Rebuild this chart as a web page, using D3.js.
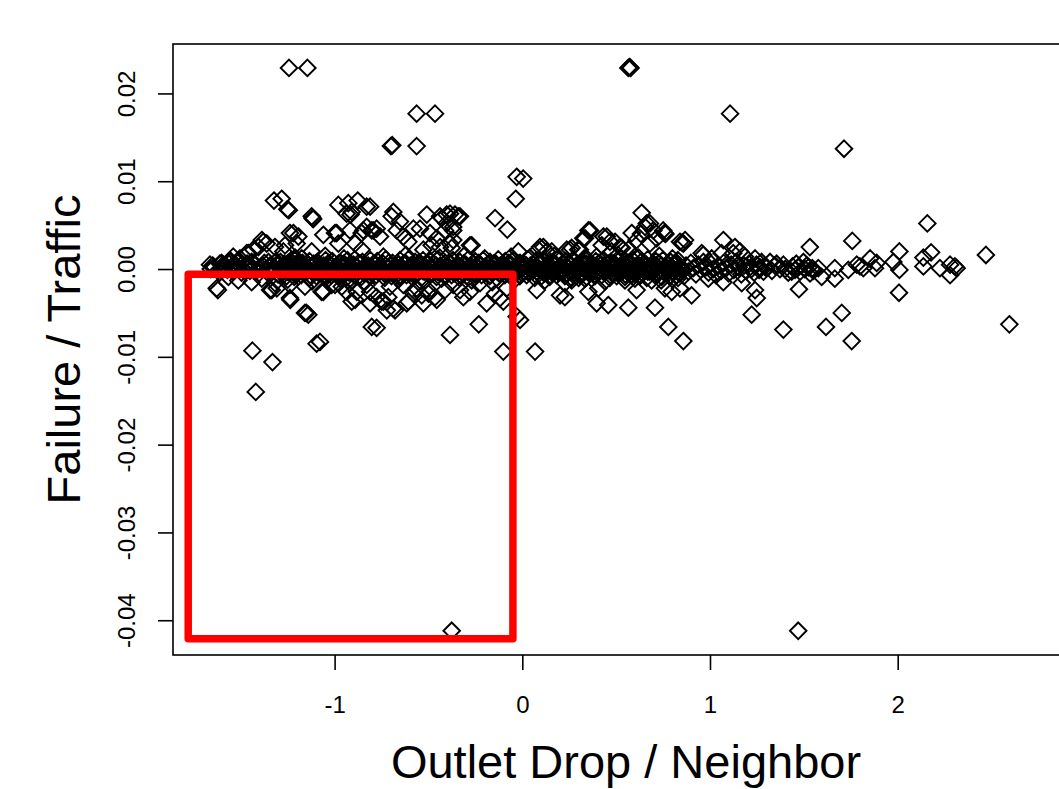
<!DOCTYPE html>
<html>
<head>
<meta charset="utf-8">
<script src="https://cdn.jsdelivr.net/npm/d3@7"></script>
<style>
  html, body { margin: 0; padding: 0; background: #fff; overflow: hidden; }
  text { font-family: "Liberation Sans", Arial, Helvetica, sans-serif; fill: #000; }
</style>
</head>
<body>
<svg id="chart" width="1059" height="789"></svg>
<script>
// ---- axis setup ----
const xTicks = [-1, 0, 1, 2];
const xTickLabels = ["-1", "0", "1", "2"];
const yTicks = [-0.04, -0.03, -0.02, -0.01, 0.00, 0.01, 0.02];
const yTickLabels = ["-0.04", "-0.03", "-0.02", "-0.01", "0.00", "0.01", "0.02"];
const xLimits = [-1.861, 2.966];
const yLimits = [-0.04396, 0.02563];
const xTitle = "Outlet Drop / Neighbor";
const yTitle = "Failure / Traffic";

// highlighted region (outlet drop below 0, failure rate below 0)
const highlightX = [-1.78, -0.05];
const highlightY = [-0.0421, -0.0006];

// ---- observations: [outlet drop / neighbor, failure / traffic] ----
const extremeHigh = [
  [-1.243,0.0229],[-1.145,0.0229],[-0.563,0.0177],[-0.465,0.0177],
  [-0.700,0.0140],[-0.693,0.0141],[-0.563,0.0140],
  [0.565,0.0229],[0.571,0.0230],[0.577,0.0229],[1.107,0.0177],[1.714,0.0137],
  [-0.030,0.0105],[0.005,0.0103],[-0.035,0.0080]
];

const extremeLow = [
  [-0.376,-0.0412],[1.470,-0.0412],
  [-1.438,-0.0093],[-1.331,-0.0106],[-1.420,-0.0140],
  [-1.096,-0.0085],[-1.078,-0.0083],[-0.101,-0.0094],[0.068,-0.0094]
];

const aboveBand = [
  [-1.323,0.0078],[-1.282,0.0080],[-1.252,0.0068],[-1.244,0.0067],
  [-1.122,0.0060],[-1.114,0.0057],[-1.118,0.0058],
  [-0.980,0.0073],[-0.927,0.0075],[-0.877,0.0078],[-0.829,0.0071],[-0.936,0.0063],[-0.909,0.0065],[-0.915,0.0062],
  [-1.060,0.0039],[-0.998,0.0041],[-0.980,0.0029],[-0.989,0.0041],
  [-1.220,0.0041],[-1.193,0.0037],[-1.238,0.0041],[-1.202,0.0029],
  [-1.388,0.0033],[-1.362,0.0029],[-1.406,0.0025],[-1.380,0.0031],
  [-1.318,0.0025],[-1.264,0.0027],[-1.273,0.0020],
  [-1.433,0.0022],[-1.468,0.0018],[-1.540,0.0014],[-1.557,0.0010],[-1.611,0.0006],
  [-1.460,0.0018],[-1.504,0.0012],[-1.557,0.0008],[-1.602,0.0007],[-1.664,0.0005],
  [-0.856,0.0041],[-0.829,0.0048],[-0.802,0.0044],[-0.918,0.0044],[-0.847,0.0044],[-0.758,0.0037],
  [-0.891,0.0029],[-0.856,0.0022],[-1.122,0.0020],[-1.175,0.0012],
  [-0.811,0.0071],[-0.794,0.0044],[-0.776,0.0046],
  [-0.687,0.0065],[-0.696,0.0060],[-0.652,0.0054],[-0.669,0.0044],[-0.634,0.0037],[-0.607,0.0031],
  [-0.509,0.0062],[-0.438,0.0060],[-0.429,0.0058],[-0.403,0.0052],[-0.385,0.0063],[-0.341,0.0060],
  [-0.403,0.0062],[-0.359,0.0062],[-0.332,0.0060],
  [-0.368,0.0048],[-0.412,0.0044],[-0.492,0.0041],[-0.545,0.0046],[-0.580,0.0046],[-0.368,0.0044],
  [-0.456,0.0035],[-0.368,0.0033],[-0.279,0.0027],[-0.376,0.0024],[-0.483,0.0027],[-0.527,0.0022],
  [-0.270,0.0027],[-0.385,0.0029],[-0.438,0.0025],
  [-0.145,0.0058],[-0.080,0.0045],
  [-0.021,0.0020],[0.085,0.0022],[0.094,0.0025],[0.112,0.0025],[0.130,0.0020],[0.157,0.0020],[0.237,0.0022],
  [0.254,0.0022],[0.307,0.0022],[0.352,0.0044],[0.325,0.0035],[0.361,0.0044],[0.334,0.0035],
  [0.432,0.0037],[0.450,0.0037],[0.467,0.0031],[0.494,0.0031],[0.521,0.0025],[0.530,0.0024],
  [0.583,0.0041],[0.636,0.0064],[0.632,0.0040],[0.654,0.0048],[0.680,0.0052],[0.663,0.0052],
  [0.698,0.0044],[0.716,0.0035],[0.751,0.0044],[0.757,0.0041],[0.763,0.0040],
  [0.609,0.0033],[0.680,0.0029],[0.565,0.0022],[0.600,0.0014],
  [0.840,0.0031],[0.852,0.0030],[0.858,0.0029],[0.867,0.0033],[0.964,0.0016],
  [1.071,0.0033],[1.124,0.0018],[1.160,0.0020],[1.133,0.0025],[1.062,0.0018],
  [0.956,0.0018],[1.009,0.0012],[1.186,0.0014],[1.240,0.0012],[1.275,0.0008],
  [0.298,0.0022],[0.263,0.0024],[0.423,0.0027],[0.396,0.0014],[0.476,0.0020],
  [1.532,0.0025],[1.758,0.0032],[2.158,0.0052],[2.470,0.0016],[2.009,0.0020],[2.178,0.0019],
  [2.137,0.0013],[1.977,0.0008],[1.853,0.0012]
];

const belowBand = [
  [-1.628,-0.0022],[-1.622,-0.0024],
  [-1.566,-0.0009],[-1.513,-0.0013],[-1.442,-0.0015],[-1.388,-0.0011],[-1.335,-0.0024],[-1.308,-0.0022],[-1.318,-0.0016],
  [-1.344,-0.0024],[-1.238,-0.0033],[-1.236,-0.0035],[-1.238,-0.0018],
  [-1.158,-0.0050],[-1.140,-0.0052],[-1.150,-0.0050],
  [-1.158,-0.0020],[-1.069,-0.0026],[-1.060,-0.0026],[-1.016,-0.0018],[-0.998,-0.0018],[-0.962,-0.0020],
  [-1.034,-0.0011],[-0.927,-0.0013],[-0.936,-0.0026],[-0.882,-0.0026],[-0.891,-0.0035],[-0.918,-0.0016],[-0.829,-0.0018],
  [-0.802,-0.0066],[-0.776,-0.0067],[-0.811,-0.0039],[-0.909,-0.0037],
  [-0.811,-0.0026],[-0.776,-0.0032],[-0.749,-0.0037],[-0.714,-0.0032],[-0.687,-0.0045],
  [-0.722,-0.0047],[-0.678,-0.0047],[-0.740,-0.0037],
  [-0.607,-0.0037],[-0.616,-0.0039],[-0.527,-0.0039],[-0.536,-0.0030],[-0.580,-0.0028],[-0.492,-0.0026],
  [-0.465,-0.0032],[-0.500,-0.0028],[-0.456,-0.0035],
  [-0.385,-0.0075],[-0.232,-0.0063],
  [-0.190,-0.0039],[-0.145,-0.0028],[-0.101,-0.0037],[-0.119,-0.0033],[-0.083,-0.0022],[-0.030,-0.0054],[-0.012,-0.0058],
  [-0.332,-0.0024],[-0.279,-0.0026],[-0.225,-0.0016],[-0.368,-0.0018],[-0.314,-0.0032],[-0.412,-0.0024],
  [-0.563,-0.0022],[-0.634,-0.0018],[-0.705,-0.0020],
  [0.077,-0.0024],[0.201,-0.0030],[0.227,-0.0016],[0.227,-0.0032],
  [0.352,-0.0026],[0.405,-0.0022],[0.396,-0.0039],[0.458,-0.0041],[0.565,-0.0044],[0.609,-0.0024],
  [0.707,-0.0044],[0.760,-0.0022],[0.796,-0.0026],[0.902,-0.0030],[0.840,-0.0022],[0.778,-0.0066],[0.858,-0.0082],
  [0.263,-0.0013],[0.334,-0.0011],[0.547,-0.0013],[0.689,-0.0013],
  [0.991,-0.0011],[1.071,-0.0015],[1.169,-0.0016],[1.240,-0.0024],[1.249,-0.0033],[1.222,-0.0052],
  [1.474,-0.0023],[1.391,-0.0069],[1.618,-0.0066],[1.702,-0.0050],[1.755,-0.0082],[2.007,-0.0027],[2.595,-0.0063]
];

// the thick cluster hugging zero
const bandLeft = [
  [-1.660,0.0000],[-1.641,0.0002],[-1.622,-0.0002],[-1.603,0.0001],[-1.585,0.0003],[-1.571,-0.0001],
  [-1.553,0.0002],[-1.541,-0.0003],[-1.524,0.0004],[-1.509,0.0000],[-1.496,-0.0004],[-1.481,0.0003],
  [-1.466,0.0006],[-1.451,-0.0002],[-1.433,0.0001],[-1.421,0.0005],[-1.404,-0.0005],[-1.391,0.0002],
  [-1.374,0.0007],[-1.362,-0.0003],[-1.344,0.0004],[-1.331,0.0000],[-1.316,0.0008],[-1.302,-0.0006],
  [-1.650,0.0004],[-1.612,-0.0004],[-1.593,0.0005],[-1.562,0.0006],[-1.532,-0.0001],[-1.516,0.0007],
  [-1.488,-0.0001],[-1.459,0.0002],[-1.442,0.0008],[-1.412,-0.0001],[-1.383,0.0004],[-1.352,0.0008],
  [-1.337,-0.0004],[-1.322,0.0002],[-1.309,0.0005]
];

const bandUpper = [
  [-1.288,0.0008],[-1.247,0.0007],[-1.213,0.0010],[-1.171,0.0007],[-1.134,0.0009],[-1.092,0.0008],
  [-1.048,0.0010],[-1.012,0.0009],[-0.968,0.0007],[-0.931,0.0010],[-0.893,0.0011],[-0.852,0.0008],
  [-0.809,0.0010],[-0.773,0.0009],[-0.728,0.0011],[-0.691,0.0007],[-0.652,0.0010],[-0.607,0.0011],
  [-0.571,0.0008],[-0.529,0.0010],[-0.492,0.0009],[-0.448,0.0011],[-0.411,0.0007],[-0.369,0.0010],
  [-0.332,0.0008],[-0.288,0.0011],[-0.251,0.0009],[-0.209,0.0010],[-0.172,0.0008],[-0.128,0.0011],
  [-0.091,0.0009],[-0.049,0.0010],[-0.012,0.0007],[0.031,0.0011],[0.072,0.0009],[0.109,0.0010],
  [0.151,0.0008],[0.188,0.0011],[0.232,0.0009],[0.269,0.0010],[0.311,0.0007],[0.348,0.0011],
  [0.392,0.0009],[0.428,0.0010],[0.471,0.0008],[0.509,0.0011],[0.551,0.0009],[0.589,0.0010],
  [0.632,0.0008],[0.668,0.0011],[0.712,0.0009],[0.749,0.0010],[0.791,0.0008],[0.829,0.0010]
];

const bandUpperMid = [
  [-1.297,0.0005],[-1.258,0.0004],[-1.219,0.0006],[-1.181,0.0004],[-1.139,0.0005],[-1.101,0.0006],
  [-1.058,0.0004],[-1.021,0.0005],[-0.979,0.0006],[-0.941,0.0004],[-0.899,0.0005],[-0.861,0.0006],
  [-0.821,0.0004],[-0.779,0.0005],[-0.742,0.0006],[-0.699,0.0004],[-0.661,0.0005],[-0.619,0.0006],
  [-0.581,0.0004],[-0.541,0.0005],[-0.501,0.0006],[-0.459,0.0004],[-0.421,0.0005],[-0.381,0.0006],
  [-0.339,0.0004],[-0.301,0.0005],[-0.259,0.0006],[-0.221,0.0004],[-0.179,0.0005],[-0.141,0.0006],
  [-0.101,0.0004],[-0.059,0.0005],[-0.021,0.0006],[0.021,0.0004],[0.059,0.0005],[0.101,0.0006],
  [0.139,0.0004],[0.181,0.0005],[0.219,0.0006],[0.261,0.0004],[0.299,0.0005],[0.341,0.0006],
  [0.379,0.0004],[0.421,0.0005],[0.459,0.0006],[0.501,0.0004],[0.539,0.0005],[0.581,0.0006],
  [0.619,0.0004],[0.661,0.0005],[0.699,0.0006],[0.741,0.0004],[0.779,0.0005],[0.821,0.0006]
];

const bandMidHigh = [
  [-1.277,0.0003],[-1.236,0.0002],[-1.198,0.0004],[-1.159,0.0001],[-1.118,0.0003],[-1.079,0.0002],
  [-1.037,0.0004],[-0.998,0.0001],[-0.957,0.0003],[-0.918,0.0004],[-0.879,0.0002],[-0.838,0.0003],
  [-0.797,0.0001],[-0.759,0.0004],[-0.717,0.0002],[-0.678,0.0003],[-0.638,0.0001],[-0.597,0.0004],
  [-0.558,0.0002],[-0.517,0.0003],[-0.478,0.0001],[-0.437,0.0004],[-0.398,0.0002],[-0.357,0.0003],
  [-0.318,0.0001],[-0.277,0.0004],[-0.238,0.0002],[-0.197,0.0003],[-0.158,0.0001],[-0.117,0.0004],
  [-0.078,0.0002],[-0.037,0.0003],[0.002,0.0001],[0.043,0.0004],[0.082,0.0002],[0.123,0.0003],
  [0.162,0.0001],[0.203,0.0004],[0.242,0.0002],[0.283,0.0003],[0.322,0.0001],[0.363,0.0004],
  [0.402,0.0002],[0.443,0.0003],[0.482,0.0001],[0.523,0.0004],[0.562,0.0002],[0.603,0.0003],
  [0.642,0.0001],[0.683,0.0004],[0.722,0.0002],[0.763,0.0003],[0.802,0.0001],[0.843,0.0003]
];

const bandCentre = [
  [-1.268,0.0006],[-1.229,0.0001],[-1.191,0.0007],[-1.149,0.0000],[-1.111,0.0006],[-1.071,0.0001],
  [-1.032,0.0007],[-0.991,0.0000],[-0.951,0.0006],[-0.912,0.0001],[-0.872,0.0007],[-0.831,0.0000],
  [-0.792,0.0006],[-0.751,0.0001],[-0.712,0.0007],[-0.671,0.0000],[-0.632,0.0006],[-0.591,0.0001],
  [-0.552,0.0007],[-0.511,0.0000],[-0.472,0.0006],[-0.431,0.0001],[-0.392,0.0007],[-0.351,0.0000],
  [-0.312,0.0006],[-0.271,0.0001],[-0.232,0.0007],[-0.191,0.0000],[-0.152,0.0006],[-0.111,0.0001],
  [-0.072,0.0007],[-0.031,0.0000],[0.008,0.0006],[0.049,0.0001],[0.088,0.0007],[0.129,0.0000],
  [0.168,0.0006],[0.209,0.0001],[0.248,0.0007],[0.289,0.0000],[0.328,0.0006],[0.369,0.0001],
  [0.408,0.0007],[0.449,0.0000],[0.488,0.0006],[0.529,0.0001],[0.568,0.0007],[0.609,0.0000],
  [0.648,0.0006],[0.689,0.0001],[0.728,0.0007],[0.769,0.0000],[0.808,0.0006],[0.849,0.0001]
];

const bandMidLow = [
  [-1.268,-0.0002],[-1.224,-0.0001],[-1.189,-0.0003],[-1.144,-0.0002],[-1.108,-0.0001],[-1.063,-0.0003],
  [-1.029,-0.0002],[-0.984,-0.0001],[-0.947,-0.0003],[-0.903,-0.0002],[-0.868,-0.0001],[-0.824,-0.0003],
  [-0.788,-0.0002],[-0.743,-0.0001],[-0.708,-0.0003],[-0.664,-0.0002],[-0.627,-0.0001],[-0.583,-0.0003],
  [-0.548,-0.0002],[-0.503,-0.0001],[-0.468,-0.0003],[-0.424,-0.0002],[-0.387,-0.0001],[-0.343,-0.0003],
  [-0.308,-0.0002],[-0.263,-0.0001],[-0.228,-0.0003],[-0.184,-0.0002],[-0.147,-0.0001],[-0.103,-0.0003],
  [-0.068,-0.0002],[-0.023,-0.0001],[0.012,-0.0003],[0.057,-0.0002],[0.092,-0.0001],[0.136,-0.0003],
  [0.173,-0.0002],[0.217,-0.0001],[0.252,-0.0003],[0.297,-0.0002],[0.333,-0.0001],[0.377,-0.0003],
  [0.412,-0.0002],[0.457,-0.0001],[0.493,-0.0003],[0.537,-0.0002],[0.572,-0.0001],[0.617,-0.0003],
  [0.652,-0.0002],[0.697,-0.0001],[0.733,-0.0003],[0.777,-0.0002],[0.812,-0.0001],[0.856,-0.0002]
];

const bandLowerMid = [
  [-1.283,-0.0004],[-1.243,-0.0003],[-1.203,-0.0005],[-1.164,-0.0004],[-1.122,-0.0003],[-1.083,-0.0005],
  [-1.043,-0.0004],[-1.003,-0.0003],[-0.962,-0.0005],[-0.923,-0.0004],[-0.883,-0.0003],[-0.843,-0.0005],
  [-0.802,-0.0004],[-0.763,-0.0003],[-0.723,-0.0005],[-0.683,-0.0004],[-0.642,-0.0003],[-0.603,-0.0005],
  [-0.563,-0.0004],[-0.523,-0.0003],[-0.482,-0.0005],[-0.443,-0.0004],[-0.403,-0.0003],[-0.363,-0.0005],
  [-0.322,-0.0004],[-0.283,-0.0003],[-0.243,-0.0005],[-0.203,-0.0004],[-0.162,-0.0003],[-0.123,-0.0005],
  [-0.083,-0.0004],[-0.043,-0.0003],[-0.002,-0.0005],[0.037,-0.0004],[0.077,-0.0003],[0.117,-0.0005],
  [0.158,-0.0004],[0.197,-0.0003],[0.237,-0.0005],[0.277,-0.0004],[0.318,-0.0003],[0.357,-0.0005],
  [0.397,-0.0004],[0.437,-0.0003],[0.478,-0.0005],[0.517,-0.0004],[0.557,-0.0003],[0.597,-0.0005],
  [0.638,-0.0004],[0.677,-0.0003],[0.717,-0.0005],[0.757,-0.0004],[0.798,-0.0003],[0.838,-0.0005]
];

const bandLowerAlt = [
  [-1.292,-0.0007],[-1.252,-0.0003],[-1.211,-0.0006],[-1.172,-0.0002],[-1.131,-0.0007],[-1.092,-0.0003],
  [-1.051,-0.0006],[-1.012,-0.0002],[-0.971,-0.0007],[-0.932,-0.0003],[-0.891,-0.0006],[-0.852,-0.0002],
  [-0.811,-0.0007],[-0.772,-0.0003],[-0.731,-0.0006],[-0.692,-0.0002],[-0.651,-0.0007],[-0.612,-0.0003],
  [-0.571,-0.0006],[-0.532,-0.0002],[-0.491,-0.0007],[-0.452,-0.0003],[-0.411,-0.0006],[-0.372,-0.0002],
  [-0.331,-0.0007],[-0.292,-0.0003],[-0.251,-0.0006],[-0.212,-0.0002],[-0.171,-0.0007],[-0.132,-0.0003],
  [-0.091,-0.0006],[-0.052,-0.0002],[-0.011,-0.0007],[0.028,-0.0003],[0.069,-0.0006],[0.108,-0.0002],
  [0.149,-0.0007],[0.188,-0.0003],[0.229,-0.0006],[0.268,-0.0002],[0.309,-0.0007],[0.348,-0.0003],
  [0.389,-0.0006],[0.428,-0.0002],[0.469,-0.0007],[0.508,-0.0003],[0.549,-0.0006],[0.588,-0.0002],
  [0.629,-0.0007],[0.668,-0.0003],[0.709,-0.0006],[0.748,-0.0002],[0.789,-0.0007],[0.828,-0.0003]
];

const bandLower = [
  [-1.256,-0.0008],[-1.215,-0.0009],[-1.178,-0.0007],[-1.133,-0.0010],[-1.097,-0.0008],[-1.054,-0.0009],
  [-1.018,-0.0007],[-0.974,-0.0008],[-0.937,-0.0010],[-0.894,-0.0007],[-0.857,-0.0009],[-0.813,-0.0008],
  [-0.778,-0.0007],[-0.733,-0.0010],[-0.697,-0.0008],[-0.654,-0.0009],[-0.617,-0.0007],[-0.573,-0.0008],
  [-0.538,-0.0010],[-0.494,-0.0007],[-0.457,-0.0009],[-0.413,-0.0008],[-0.377,-0.0007],[-0.334,-0.0010],
  [-0.297,-0.0008],[-0.253,-0.0009],[-0.217,-0.0007],[-0.174,-0.0008],[-0.137,-0.0010],[-0.093,-0.0007],
  [-0.057,-0.0009],[-0.013,-0.0008],[0.023,-0.0007],[0.066,-0.0010],[0.103,-0.0008],[0.146,-0.0009],
  [0.183,-0.0007],[0.227,-0.0008],[0.263,-0.0010],[0.306,-0.0007],[0.343,-0.0009],[0.387,-0.0008],
  [0.423,-0.0007],[0.466,-0.0010],[0.503,-0.0008],[0.547,-0.0009],[0.583,-0.0007],[0.626,-0.0008],
  [0.663,-0.0010],[0.707,-0.0007],[0.743,-0.0009],[0.786,-0.0008],[0.823,-0.0007],[0.861,-0.0008]
];

const bandFringe = [
  [-1.21,0.0013],[-1.05,0.0015],[-0.95,0.0012],[-0.74,0.0014],[-0.62,0.0016],[-0.44,0.0013],
  [-0.31,0.0015],[-0.20,0.0012],[-0.06,0.0014],[0.04,0.0013],[0.17,0.0015],[0.33,0.0012],
  [0.51,0.0016],[0.62,0.0013],[0.73,0.0015],[0.80,0.0012],
  [-1.25,-0.0012],[-1.12,-0.0014],[-0.97,-0.0011],[-0.84,-0.0015],[-0.66,-0.0012],[-0.54,-0.0014],
  [-0.43,-0.0011],[-0.27,-0.0013],[-0.16,-0.0015],[-0.04,-0.0012],[0.12,-0.0013],[0.30,-0.0010],
  [0.44,-0.0014],[0.60,-0.0011],[0.74,-0.0013],[0.83,-0.0010]
];

const bandRight = [
  [0.872,0.0004],[0.885,-0.0003],[0.898,0.0007],[0.911,0.0001],[0.925,-0.0006],[0.938,0.0005],
  [0.951,-0.0001],[0.965,0.0008],[0.978,0.0002],[0.992,-0.0004],[1.005,0.0006],[1.018,0.0000],
  [1.032,-0.0007],[1.046,0.0004],[1.059,-0.0002],[1.073,0.0007],[1.086,0.0001],[1.099,-0.0005],
  [1.113,0.0005],[1.127,-0.0001],[1.140,0.0008],[1.153,0.0002],[1.167,-0.0006],[1.181,0.0004],
  [1.194,-0.0002],[1.208,0.0006],[1.221,0.0000],[1.235,-0.0004],[1.248,0.0005],[1.262,-0.0001],
  [1.266,0.0002],[1.285,-0.0003],[1.293,0.0003],[1.300,0.0001],[1.320,0.0008],[1.330,-0.0002],
  [1.346,0.0004],[1.355,0.0006],[1.373,0.0000],[1.391,0.0005],[1.400,0.0000],[1.417,-0.0004],
  [1.435,-0.0003],[1.440,0.0003],[1.453,-0.0001],[1.460,0.0006],[1.471,0.0002],[1.480,-0.0003],
  [1.498,0.0008],[1.505,0.0000],[1.515,0.0004],[1.525,0.0002],[1.533,-0.0005],[1.545,0.0001],
  [1.551,-0.0002],[1.577,0.0001],[1.595,-0.0009],[1.665,0.0001],[1.665,-0.0011],[1.737,-0.0001],
  [1.782,0.0005],[1.799,0.0003],[1.817,0.0001],[1.879,0.0001],[1.888,0.0007],[2.009,-0.0001],
  [2.137,0.0003],[2.225,0.0001],[2.279,0.0005],[2.305,0.0003],[2.279,-0.0007],[2.314,0.0001]
];

// ---- layout ----
const svg = d3.select("#chart");
const W = 1059, H = 789;
const plot = { left: 173, top: 44, right: 1079, bottom: 655 };
const FONT = '"Liberation Sans", Arial, Helvetica, sans-serif';

svg.append("rect").attr("width", W).attr("height", H).attr("fill", "#fff");

const x = d3.scaleLinear().domain(xLimits).range([plot.left, plot.right]);
const y = d3.scaleLinear().domain(yLimits).range([plot.bottom, plot.top]);

// open diamonds, like R's pch = 5
const r = 8.3;
const diamond = `M0,${-r}L${r},0L0,${r}L${-r},0Z`;

const allPoints = [].concat(bandLeft, bandUpper, bandUpperMid, bandMidHigh, bandCentre, bandMidLow,
  bandLowerMid, bandLowerAlt, bandLower, bandFringe, bandRight, aboveBand, belowBand, extremeHigh, extremeLow);

svg.append("defs").append("clipPath").attr("id", "plotClip")
  .append("rect")
  .attr("x", plot.left).attr("y", plot.top)
  .attr("width", plot.right - plot.left).attr("height", plot.bottom - plot.top);

svg.append("g").attr("clip-path", "url(#plotClip)")
  .selectAll("path.pt")
  .data(allPoints)
  .join("path")
  .attr("class", "pt")
  .attr("d", diamond)
  .attr("transform", d => `translate(${x(d[0])},${y(d[1])})`)
  .attr("fill", "none")
  .attr("stroke", "#000")
  .attr("stroke-width", 1.9);

// highlighted quadrant
svg.append("path")
  .attr("d", d3.line()([
    [x(highlightX[0]), y(highlightY[1])],
    [x(highlightX[1]), y(highlightY[1])],
    [x(highlightX[1]), y(highlightY[0])],
    [x(highlightX[0]), y(highlightY[0])]
  ]) + "Z")
  .attr("fill", "none")
  .attr("stroke", "#ff0000")
  .attr("stroke-width", 7.5)
  .attr("stroke-linejoin", "round");

// frame
svg.append("rect")
  .attr("x", plot.left).attr("y", plot.top)
  .attr("width", plot.right - plot.left).attr("height", plot.bottom - plot.top)
  .attr("fill", "none").attr("stroke", "#000").attr("stroke-width", 1.6);

// x axis
const xAxis = d3.axisBottom(x).tickValues(xTicks)
  .tickFormat((d, i) => xTickLabels[i]).tickSize(15).tickPadding(0);
const gx = svg.append("g").attr("transform", `translate(0,${plot.bottom})`).call(xAxis);
gx.attr("font-size", null).attr("font-family", null);
gx.select(".domain").remove();
gx.selectAll(".tick line").attr("stroke", "#000").attr("stroke-width", 1.6);
gx.selectAll(".tick text")
  .attr("y", 58).attr("dy", null)
  .style("font-size", "24px")
  .style("font-family", FONT);

// y axis
const yAxis = d3.axisLeft(y).tickValues(yTicks)
  .tickFormat((d, i) => yTickLabels[i]).tickSize(15).tickPadding(0);
const gy = svg.append("g").attr("transform", `translate(${plot.left},0)`).call(yAxis);
gy.attr("font-size", null).attr("font-family", null);
gy.select(".domain").remove();
gy.selectAll(".tick line").attr("stroke", "#000").attr("stroke-width", 1.6);
gy.selectAll(".tick text")
  .attr("x", null).attr("dy", null)
  .attr("text-anchor", "middle")
  .attr("transform", "translate(-38,0) rotate(-90)")
  .style("font-size", "24px")
  .style("font-family", FONT);

// titles
svg.append("text")
  .attr("x", (plot.left + plot.right) / 2)
  .attr("y", 778)
  .attr("text-anchor", "middle")
  .style("font-size", "47px")
  .text(xTitle);

svg.append("text")
  .attr("transform", `translate(80,${(plot.top + plot.bottom) / 2}) rotate(-90)`)
  .attr("text-anchor", "middle")
  .style("font-size", "47px")
  .text(yTitle);
</script>
</body>
</html>
